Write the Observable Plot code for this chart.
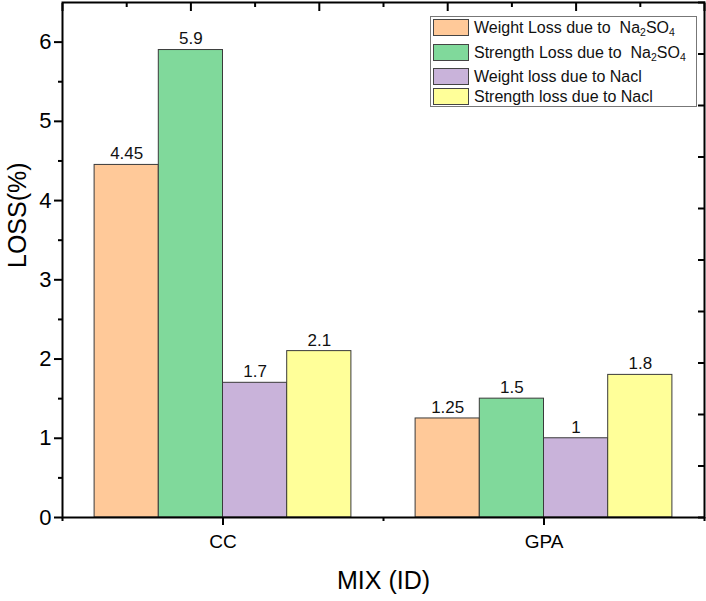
<!DOCTYPE html>
<html>
<head>
<meta charset="utf-8">
<script src="https://cdn.jsdelivr.net/npm/d3@7"></script>
<script src="https://cdn.jsdelivr.net/npm/@observablehq/plot@0.6"></script>
<style>
  html, body { margin: 0; padding: 0; background: #fff; }
  #wrap { position: relative; width: 706px; height: 601px; font-family: "Liberation Sans", Arial, sans-serif; }
  #wrap > svg, #wrap > div.layer { position: absolute; left: 0; top: 0; }
  #legend { position: absolute; left: 430px; top: 16px; width: 267px; height: 91px; border: 1.5px solid #777; background: #fff; box-sizing: border-box; }
  .item { position: absolute; left: 2px; height: 17px; display: flex; align-items: center; }
  .sw { width: 36px; height: 17px; border: 1px solid #444; box-sizing: border-box; margin-right: 5px; flex: none; }
  .lab { font-size: 16px; color: #111; white-space: nowrap; line-height: 17px; }
  .lab sub { font-size: 10.5px; vertical-align: -3px; line-height: 0; }
</style>
</head>
<body>
<div id="wrap"></div>
<script>
// ---- data ----
const mix = ["CC", "GPA"];
const series = [
  "Weight Loss due to Na2SO4",
  "Strength Loss due to Na2SO4",
  "Weight loss due to Nacl",
  "Strength loss due to Nacl"
];
const legendLabels = [
  "Weight Loss due to&nbsp; Na<sub>2</sub>SO<sub>4</sub>",
  "Strength Loss due to&nbsp; Na<sub>2</sub>SO<sub>4</sub>",
  "Weight loss due to Nacl",
  "Strength loss due to Nacl"
];
const colors = ["#FFC999", "#80D99B", "#C9B3DA", "#FFFF99"];
const ccValues = [4.45, 5.9, 1.7, 2.1];
const gpaValues = [1.25, 1.5, 1, 1.8];
const yMajorTicks = [0, 1, 2, 3, 4, 5, 6];
const yMax = 6.5;

const data = [];
series.forEach((s, i) => data.push({mix: "CC", series: s, value: ccValues[i]}));
series.forEach((s, i) => data.push({mix: "GPA", series: s, value: gpaValues[i]}));

const W = 706, H = 601;
const margins = {marginLeft: 62, marginRight: 2, marginTop: 2, marginBottom: 84};
const font = "Liberation Sans, Arial, sans-serif";

// ---- background: frame, axes, titles ----
const nGroups = mix.length;
const xMax = nGroups * 5;
const groupCenters = mix.map((_, i) => i * 5 + 2.5);
const groupEdges = d3.range(0, nGroups + 1).map(i => i * 5);
const yMinor = yMajorTicks.slice(0, -1).map(t => t + 0.5);
const rightTicks = d3.range(0, 11).map(i => i * yMax / 10);
const topMajor = d3.range(0, 11, 2);
const topMinor = d3.range(1, 10, 2);

const back = Plot.plot({
  width: W, height: H, ...margins,
  style: {fontFamily: font, background: "transparent", color: "#000"},
  x: {domain: [0, xMax], axis: null},
  y: {domain: [0, yMax], axis: null},
  marks: [
    Plot.axisY({ticks: yMajorTicks, tickFormat: d => String(d), tickSize: 8, tickPadding: 3, fontSize: 22, label: null, strokeWidth: 2}),
    Plot.axisY({ticks: yMinor, tickSize: 4, tickFormat: () => "", label: null, strokeWidth: 2}),
    Plot.axisY({anchor: "right", ticks: rightTicks, tickSize: -7, tickFormat: () => "", label: null, strokeWidth: 2}),
    Plot.axisX({ticks: groupCenters, tickFormat: (d) => mix[Math.floor(d / 5)], tickSize: 8, tickPadding: 9, fontSize: 19, label: null, strokeWidth: 2}),
    Plot.axisX({ticks: groupEdges, tickSize: 4, tickFormat: () => "", label: null, strokeWidth: 2}),
    Plot.axisX({anchor: "top", ticks: topMajor, tickSize: -8, tickFormat: () => "", label: null, strokeWidth: 2}),
    Plot.axisX({anchor: "top", ticks: topMinor, tickSize: -4, tickFormat: () => "", label: null, strokeWidth: 2}),
    Plot.text(["LOSS(%)"], {frameAnchor: "left", rotate: -90, dx: -45, dy: 8, fontSize: 25, fill: "#000"}),
    Plot.text(["MIX (ID)"], {frameAnchor: "bottom", lineAnchor: "middle", dy: 63, fontSize: 25, fill: "#000"})
  ]
});

// ---- bars ----
const bars = Plot.plot({
  width: W, height: H, ...margins,
  style: {fontFamily: font, background: "transparent"},
  fx: {domain: mix, paddingInner: 0.2, paddingOuter: 0.1, round: false, axis: null, label: null},
  x: {domain: series, padding: 0, round: false, axis: null},
  y: {domain: [0, yMax], axis: null},
  color: {domain: series, range: colors},
  marks: [
    Plot.barY(data, {fx: "mix", x: "series", y: "value", fill: "series", stroke: "#3a3a3a", strokeWidth: 1, inset: 0}),
    Plot.text(data, {fx: "mix", x: "series", y: "value", text: d => String(d.value), dy: -11, fontSize: 17, fill: "#111"})
  ]
});

// frame drawn on top of bars
const front = Plot.plot({
  width: W, height: H, ...margins,
  style: {background: "transparent"},
  x: {domain: [0, xMax], axis: null},
  y: {domain: [0, yMax], axis: null},
  marks: [Plot.frame({stroke: "#000", strokeWidth: 2})]
});

const wrap = document.getElementById("wrap");
wrap.appendChild(back);
wrap.appendChild(bars);
wrap.appendChild(front);

// ---- legend ----
const legend = document.createElement("div");
legend.id = "legend";
const tops = [2, 27, 51, 71];
series.forEach((s, i) => {
  const it = document.createElement("div");
  it.className = "item";
  it.style.top = tops[i] + "px";
  const sw = document.createElement("div");
  sw.className = "sw";
  sw.style.background = colors[i];
  const lab = document.createElement("span");
  lab.className = "lab";
  lab.innerHTML = legendLabels[i];
  it.appendChild(sw);
  it.appendChild(lab);
  legend.appendChild(it);
});
wrap.appendChild(legend);
</script>
</body>
</html>
